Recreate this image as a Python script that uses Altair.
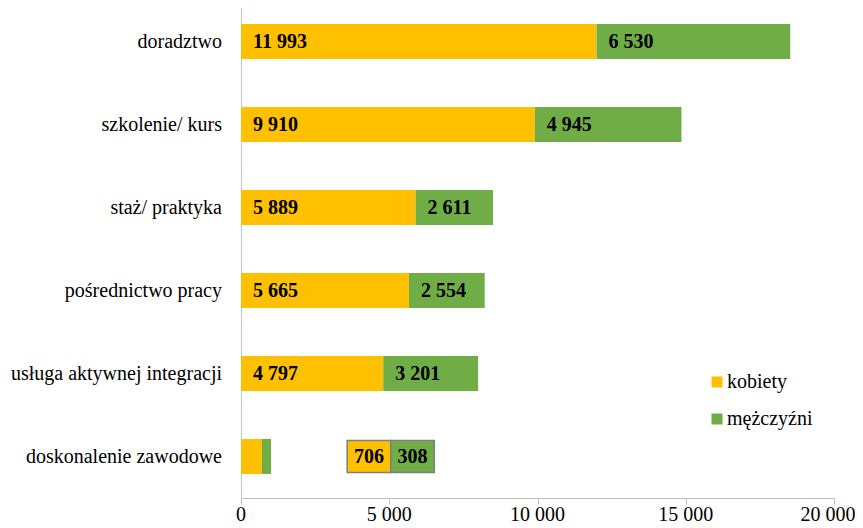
import altair as alt
import pandas as pd

categories = ["doradztwo", "szkolenie/ kurs", "staż/ praktyka", "pośrednictwo pracy",
              "usługa aktywnej integracji", "doskonalenie zawodowe"]
kobiety = [11993, 9910, 5889, 5665, 4797, 706]
mezczyzni = [6530, 4945, 2611, 2554, 3201, 308]
series = ["kobiety", "mężczyźni"]
colors = ["#FFC000", "#70AD47"]
x_ticks = [0, 5000, 10000, 15000, 20000]

FONT = "Liberation Serif"
FS = 20
W, H = 593, 498


def fmt(v):
    return f"{v:,}".replace(",", " ")


rows = []
for c, k, m in zip(categories, kobiety, mezczyzni):
    rows.append(dict(cat=c, series="kobiety", start=0, end=k, value=k, label=fmt(k)))
    rows.append(dict(cat=c, series="mężczyźni", start=k, end=k + m, value=m, label=fmt(m)))
df = pd.DataFrame(rows)

small = categories[-1]
inside = df[df.cat != small]

# callout boxes for the small category (data units)
box_start = 3580
box_w = 1470
call = df[df.cat == small].copy().reset_index(drop=True)
call["b0"] = [box_start + i * box_w for i in range(len(call))]
call["b1"] = call["b0"] + box_w
call["mid"] = (call["b0"] + call["b1"]) / 2

y_axis = alt.Axis(title=None, ticks=False, labels=False, domainColor="#B4C7E7", domainWidth=1)
y_enc = alt.Y("cat:N", sort=categories,
              scale=alt.Scale(paddingInner=0.578, paddingOuter=0.289), axis=y_axis)
x_scale = alt.Scale(domain=[0, 20000], nice=False)
x_axis = alt.Axis(title=None, values=x_ticks, grid=False, labels=False,
                  domainColor="#BFBFBF", tickColor="#BFBFBF", tickSize=6)
color_enc = alt.Color("series:N", scale=alt.Scale(domain=series, range=colors), legend=None)

y_sub = alt.Y("cat:N", sort=categories, axis=y_axis)

bars = alt.Chart(df).mark_bar().encode(
    y=y_enc, x=alt.X("start:Q", scale=x_scale, axis=x_axis), x2="end:Q", color=color_enc,
)

texts = alt.Chart(inside).mark_text(align="left", baseline="middle", dx=12, font=FONT,
                                    fontSize=FS, fontWeight="bold", color="#000000").encode(
    y=y_sub, x=alt.X("start:Q", scale=x_scale), text="label:N",
)

boxes = alt.Chart(call).mark_bar(size=32, stroke="#7F7F7F", strokeWidth=1.5).encode(
    y=y_sub, x=alt.X("b0:Q", scale=x_scale), x2="b1:Q", color=color_enc,
)

box_texts = alt.Chart(call).mark_text(align="center", baseline="middle", font=FONT,
                                      fontSize=FS, fontWeight="bold",
                                      color="#000000").encode(
    y=y_sub, x=alt.X("mid:Q", scale=x_scale), text="label:N",
)

# category labels (left of the axis)
ylab_df = pd.DataFrame({"cat": categories})
ylabels = alt.Chart(ylab_df).mark_text(align="right", baseline="middle", dx=-19, font=FONT,
                                       fontSize=FS, color="#000000").encode(
    y=y_sub, x=alt.value(0), text="cat:N",
)

# x tick labels
xl_df = pd.DataFrame({"v": x_ticks, "lab": [fmt(v) for v in x_ticks]})
xlabels = alt.Chart(xl_df[xl_df.v < 20000]).mark_text(
    align="center", baseline="middle", font=FONT, fontSize=FS, color="#000000").encode(
    x=alt.X("v:Q", scale=x_scale), y=alt.value(H + 17), text="lab:N",
)
xlabel_last = alt.Chart(xl_df[xl_df.v == 20000]).mark_text(
    align="center", baseline="middle", dx=-6, font=FONT, fontSize=FS,
    color="#000000").encode(
    x=alt.X("v:Q", scale=x_scale), y=alt.value(H + 17), text="lab:N",
)

# legend
legend_layers = []
for i, (s, col) in enumerate(zip(series, colors)):
    ldf = pd.DataFrame({"s": [s]})
    ypos = 382 + i * 37
    sym = alt.Chart(ldf).mark_square(size=121, filled=True, opacity=1).encode(
        x=alt.value(476), y=alt.value(ypos), color=alt.value(col))
    lab = alt.Chart(ldf).mark_text(align="left", baseline="middle", font=FONT, fontSize=FS,
                                   color="#000000").encode(
        x=alt.value(486), y=alt.value(ypos), text="s:N")
    legend_layers += [sym, lab]

chart = alt.layer(bars, texts, boxes, box_texts, ylabels, xlabels, xlabel_last,
                  *legend_layers).properties(
    width=W, height=H,
    autosize=alt.AutoSizeParams(type="none"),
    padding={"left": 233, "top": -8, "right": 21, "bottom": 30},
).configure_view(stroke=None)

chart.save("out.html", embed_options={"renderer": "svg", "actions": False})
